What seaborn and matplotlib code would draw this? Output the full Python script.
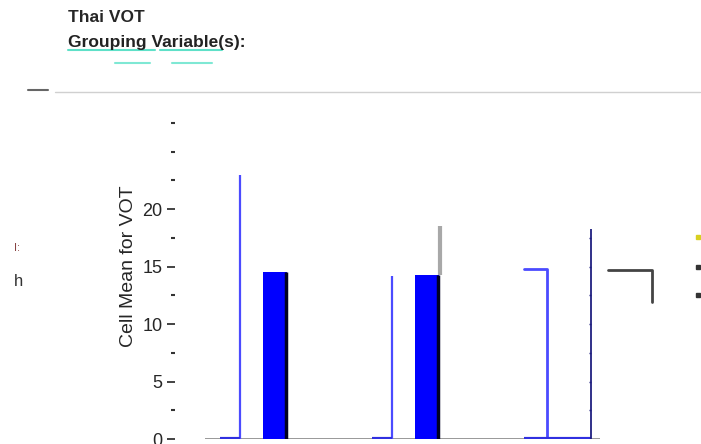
import numpy as np
import pandas as pd
import seaborn as sns
import matplotlib.pyplot as plt
from matplotlib.lines import Line2D

# values
groups = ["group 1", "group 2", "group 3"]
bar_means = [14.5, 14.3, np.nan]        # solid bars
line_means = [23.0, 14.2, 14.8]         # thin blue bars
error_upper = [np.nan, 18.5, np.nan]    # grey error bar
inner_axis_top = 18.3
corner_mark = [14.7, 11.9]
ytick_labels = [0, 5, 10, 15, 20]

sns.set_style("white")
plt.rcParams["font.family"] = ["Liberation Sans", "DejaVu Sans"]

fig = plt.figure(figsize=(7.01, 4.44), dpi=100)
ax = fig.add_axes([175 / 701, 5 / 444, 526 / 701, 345 / 444])

# layout offsets inside each group slot
idx = np.arange(len(groups))
thin_off, bar_off, bar_w = 0.13, 0.362, 0.158

df = pd.DataFrame({"group": groups, "mean": bar_means, "xpos": idx + bar_off}).dropna()
sns.barplot(data=df, x="xpos", y="mean", native_scale=True, width=bar_w,
            color="#0000ff", saturation=1, linewidth=0,
            errorbar=None, ax=ax)
# dark shadow on the right side of the solid bars
ax.vlines(df["xpos"] + bar_w / 2 - 0.006, 0, df["mean"], color="#000022", lw=2.5)

# thin blue bars and their baseline stubs
blue = "#4b4bff"
ax.vlines(idx[:2] + thin_off, 0, line_means[:2], color=blue, lw=1.6)
ax.hlines(np.zeros(2), idx[:2] - 0.0, idx[:2] + thin_off, color="#3030e0", lw=3)

# error bar on group 2
ax.vlines(idx[1] + bar_off + bar_w / 2 + 0.004, bar_means[1], error_upper[1], color="#a8a8a8", lw=3)

# third group: hollow step outline
g3 = idx[2]
ax.plot([g3, g3 + 0.152, g3 + 0.152], [line_means[2], line_means[2], 0], color=blue, lw=2)
ax.hlines(0, g3, g3 + 0.44, color="#3030e0", lw=3)

# inner axis line with its ticks
ax.vlines(g3 + 0.44, 0, inner_axis_top, color="#202080", lw=1.3)
inner_ticks = np.arange(0, inner_axis_top, 2.5)
ax.hlines(inner_ticks, g3 + 0.425, g3 + 0.44, color="#202080", lw=1)

# black corner mark
ax.plot([g3 + 0.553, g3 + 0.842, g3 + 0.842],
        [corner_mark[0], corner_mark[0], corner_mark[1]], color="#444444", lw=2)

# baseline
ax.hlines(0, -0.1, 2.5, color="#888888", lw=1.2, zorder=0)

ax.set_xlim(-0.296, 3.164)
ax.set_ylim(0, 30)
sns.despine(ax=ax, left=True, bottom=True, right=True, top=True)
ax.set_xticks(idx[:2] + 0.705)
ax.set_xticklabels([])
ax.tick_params(axis="x", direction="out", length=3, color="#555555")
ax.set_yticks(ytick_labels)
ax.set_yticklabels([str(v) for v in ytick_labels], fontsize=13)
minor = np.arange(2.5, 28, 2.5)
ax.set_yticks(minor[minor % 5 != 0].tolist() + [25], minor=True)
ax.tick_params(axis="y", which="major", left=True, length=6, width=1.2, color="#222222", pad=3)
ax.tick_params(axis="y", which="minor", left=True, length=3, width=1.5, color="#333333")
ax.set_ylabel("Cell Mean for VOT", fontsize=14, labelpad=4)
ax.set_xlabel("")

# header
fig.text(68 / 701, 1 - 18 / 444, "Thai VOT", fontsize=12.5, fontweight="bold", va="center")
fig.text(68 / 701, 1 - 42 / 444, "Grouping Variable(s):", fontsize=12.5,
         fontweight="bold", va="center", color="#222222")
fig.add_artist(Line2D([68 / 701, 155 / 701], [1 - 50 / 444] * 2, color="#5fe0c8", lw=1.5))
fig.add_artist(Line2D([160 / 701, 222 / 701], [1 - 50 / 444] * 2, color="#5fe0c8", lw=1.5))
fig.add_artist(Line2D([115 / 701, 150 / 701], [1 - 63 / 444] * 2, color="#7fe8d4", lw=1.5))
fig.add_artist(Line2D([172 / 701, 212 / 701], [1 - 63 / 444] * 2, color="#7fe8d4", lw=1.5))
fig.add_artist(Line2D([55 / 701, 700 / 701], [1 - 92 / 444] * 2, color="#d0d0d0", lw=1))
fig.add_artist(Line2D([28 / 701, 48 / 701], [1 - 90 / 444] * 2, color="#666666", lw=1.5))

# right edge legend dots
for yy, cc in zip([237, 267, 295], ["#d8d020", "#333333", "#333333"]):
    fig.add_artist(Line2D([698 / 701], [1 - yy / 444], marker="s", ms=2.5, color=cc, lw=0))

# side label fragments
fig.text(14 / 701, 1 - 282 / 444, "h", fontsize=12, va="center", color="#333333")
fig.text(14 / 701, 1 - 248 / 444, "I:", fontsize=8, va="center", color="#884444")

fig.savefig("out.png", dpi=100)
